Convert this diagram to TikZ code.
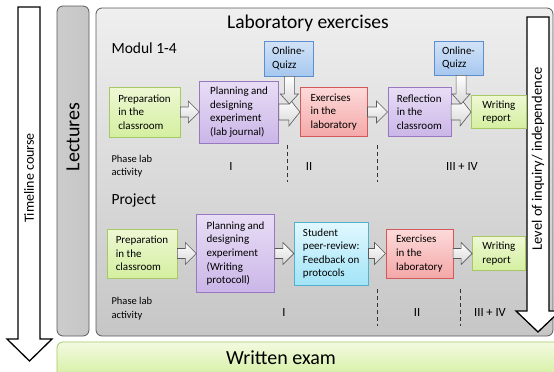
\documentclass[tikz,border=0pt]{standalone}
\usepackage{fontspec}
\setmainfont{Carlito}
\usetikzlibrary{positioning,calc}
\definecolor{greentop}{HTML}{EEF8D4}
\definecolor{greenbot}{HTML}{D4EFA0}
\definecolor{greenline}{HTML}{A8C866}
\definecolor{purpletop}{HTML}{E8DDF5}
\definecolor{purplebot}{HTML}{CBB6E8}
\definecolor{purpleline}{HTML}{9878C0}
\definecolor{bluetop}{HTML}{D3E3F7}
\definecolor{bluebot}{HTML}{A6C7EF}
\definecolor{blueline}{HTML}{5B8FD0}
\definecolor{redtop}{HTML}{FDDADA}
\definecolor{redbot}{HTML}{F4A8A8}
\definecolor{redline}{HTML}{D05A5A}
\definecolor{cyantop}{HTML}{E2F8FE}
\definecolor{cyanbot}{HTML}{A2E4F7}
\definecolor{cyanline}{HTML}{52B2CC}
\definecolor{graytop}{HTML}{EFEFEF}
\definecolor{graybot}{HTML}{C6C6C6}
\definecolor{grayline}{HTML}{5A5A5A}

% horizontal block arrow between two boxes
\newcommand{\flowarrow}[3][5]{%
  \draw[blockarr] let \p1=(#2.east), \p2=(#3.west), \n1={#1*1pt}, \n2={(#1+6)*1pt} in
    (\x1,\y1+\n1) -- (\x2-11pt,\y1+\n1) -- (\x2-11pt,\y1+\n2) -- (\x2,\y1)
    -- (\x2-11pt,\y1-\n2) -- (\x2-11pt,\y1-\n1) -- (\x1,\y1-\n1) -- cycle;}
% vertical block arrow from a quiz box down onto an arrow
\newcommand{\quizarrow}[3]{%
  \draw[blockarr] let \p1=(#1.south), \p2=($(#2.east)!.5!(#3.west)$) in
    (\x2-5pt,\y1) -- (\x2-5pt,\y2+18pt) -- (\x2-9pt,\y2+18pt) -- (\x2,\y2+8pt)
    -- (\x2+9pt,\y2+18pt) -- (\x2+5pt,\y2+18pt) -- (\x2+5pt,\y1) -- cycle;}

\begin{document}
\begin{tikzpicture}[x=1pt, y=-1pt,
  stepbox/.style={draw, line width=0.6pt, align=left, inner xsep=4pt, inner ysep=2pt,
    font=\fontsize{11}{13.6}\selectfont},
  sz/.style 2 args={minimum width=#1, minimum height=#2},
  greenbox/.style={stepbox, draw=greenline, top color=greentop, bottom color=greenbot},
  purplebox/.style={stepbox, draw=purpleline, top color=purpletop, bottom color=purplebot},
  bluebox/.style={stepbox, draw=blueline, top color=bluetop, bottom color=bluebot},
  redbox/.style={stepbox, draw=redline, top color=redtop, bottom color=redbot},
  cyanbox/.style={stepbox, draw=cyanline, top color=cyantop, bottom color=cyanbot},
  blockarr/.style={draw=grayline, line width=0.6pt, top color=white, bottom color=gray!30},
  timearrow/.style={draw=black, line width=1.3pt, fill=white, line join=miter},
  phaseline/.style={draw=black!80, line width=1pt, dash pattern=on 3.5pt off 3.5pt},
  phasetext/.style={font=\fontsize{10.5}{13.5}\selectfont, align=left, anchor=west},
  numtext/.style={font=\fontsize{12.5}{14}\selectfont}
]
  \useasboundingbox (0,0) rectangle (554,372);

  % frames
  \draw[draw=grayline, line width=0.8pt, rounded corners=6pt, left color=gray!40, middle color=gray!10, right color=gray!45]
    (57,6) rectangle (89,336);
  \node[rotate=90, font=\fontsize{20}{22}\selectfont] (lectures) at (73,137) {Lectures};
  \draw[draw=grayline, line width=0.8pt, rounded corners=6pt, top color=graytop, bottom color=graybot]
    (96,8) rectangle (553,336);
  \node[font=\fontsize{19.5}{21}\selectfont] (labtitle) at (308,23) {Laboratory exercises};
  \draw[draw=greenline, line width=0.8pt, rounded corners=6pt, top color=greentop!70!white, bottom color=greenbot]
    (57,342) rectangle (560,378);
  \node[font=\fontsize{20}{22}\selectfont] (exam) at (281,357.5) {Written exam};

  % timeline and level arrows
  \draw[timearrow] (18,7) -- (40,7) -- (40,339) -- (52,339) -- (29.5,361) -- (7,339) -- (18,339) -- cycle;
  \node[rotate=90, font=\fontsize{14}{16}\selectfont] (timeline) at (29,178) {Timeline course};
  \draw[timearrow] (527,17) -- (549,17) -- (549,311) -- (560,311) -- (538,332) -- (516,311) -- (527,311) -- cycle;
  \node[rotate=90, font=\fontsize{14.5}{16}\selectfont] (level) at (538,159) {Level of inquiry/ independence};

  % Modul 1-4
  \node[anchor=west, font=\fontsize{15.5}{17}\selectfont] (modul) at (108,48) {Modul 1-4};
  \node[greenbox, sz={71pt}{50pt}] (prep1) at (144.5,112) {Preparation\\in the\\classroom};
  \node[purplebox, sz={79pt}{62pt}, right=19pt of prep1] (plan1) {Planning and\\designing\\experiment\\(lab journal)};
  \node[redbox, sz={67pt}{49pt}, right=21pt of plan1] (ex1) {Exercises\\in the\\laboratory};
  \node[purplebox, sz={63pt}{49pt}, right=20pt of ex1] (refl1) {Reflection\\in the\\classroom};
  \node[greenbox, sz={55pt}{33pt}, right=20pt of refl1] (rep1) {Writing\\report};
  \node[bluebox, sz={49pt}{35pt}] (quiz1) at (288.5,58.5) {Online-\\Quizz};
  \node[bluebox, sz={49pt}{34pt}] (quiz2) at (458.5,58) {Online-\\Quizz};

  \flowarrow{prep1}{plan1}
  \flowarrow[8]{plan1}{ex1}
  \flowarrow{ex1}{refl1}
  \flowarrow[8]{refl1}{rep1}
  \quizarrow{quiz1}{plan1}{ex1}
  \quizarrow{quiz2}{refl1}{rep1}

  \node[phasetext] (phase1) at (108,166) {Phase lab\\activity};
  \node[numtext] (ph1a) at (231,166) {I};
  \node[numtext] (ph1b) at (309,166) {II};
  \node[numtext] (ph1c) at (462,166) {III + IV};
  \draw[phaseline] (287,145) -- (287,182);
  \draw[phaseline] (377,145) -- (377,182);

  % Project
  \node[anchor=west, font=\fontsize{15.5}{17}\selectfont] (project) at (108,200) {Project};
  \node[greenbox, sz={70pt}{49pt}] (prep2) at (142,253.5) {Preparation\\in the\\classroom};
  \node[purplebox, sz={78pt}{78pt}, right=19pt of prep2] (plan2) {Planning and\\designing\\experiment\\(Writing\\protocoll)};
  \node[cyanbox, sz={74pt}{63pt}, right=19pt of plan2] (peer2) {Student\\peer-review:\\Feedback on\\protocols};
  \node[redbox, sz={67pt}{49pt}, right=17pt of peer2] (ex2) {Exercises\\in the\\laboratory};
  \node[greenbox, sz={53pt}{34pt}, right=19pt of ex2] (rep2) {Writing\\report};

  \flowarrow{prep2}{plan2}
  \flowarrow{plan2}{peer2}
  \flowarrow{peer2}{ex2}
  \flowarrow{ex2}{rep2}

  \node[phasetext] (phase2) at (108,308.5) {Phase lab\\activity};
  \node[numtext] (ph2a) at (284,312) {I};
  \node[numtext] (ph2b) at (417,312) {II};
  \node[numtext] (ph2c) at (490,312) {III + IV};
  \draw[phaseline] (377,289) -- (377,326);
  \draw[phaseline] (460,289) -- (460,326);
\end{tikzpicture}
\end{document}
